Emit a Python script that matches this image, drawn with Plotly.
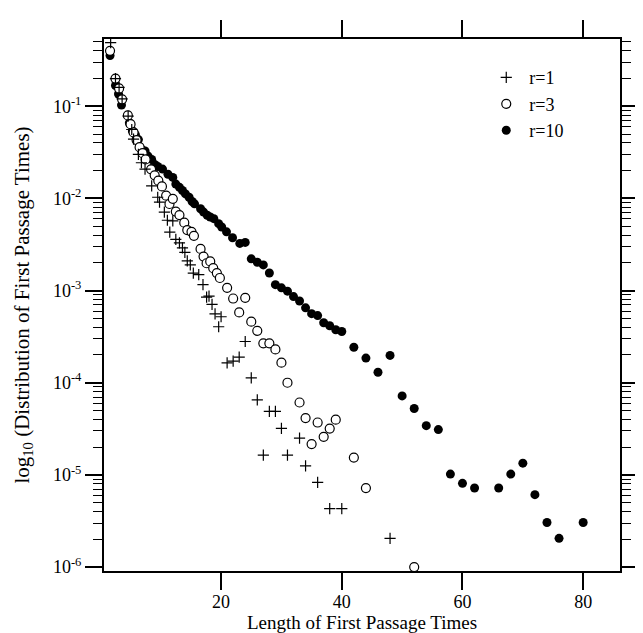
import plotly.graph_objects as go

# r=1 (plus markers)
x_r1 = [1.7, 2.5, 3.1, 3.6, 4.6, 5.2, 5.5, 6.3, 6.8, 7.4, 8.5, 9.5, 9.8, 10.6, 11.1, 11.5, 12.0, 12.5,
        13.1, 13.6, 14.0, 14.4, 14.9, 15.4, 16.3, 17.0, 17.6, 18.0, 18.5, 19.0, 19.6, 20.0, 21.0, 22.0,
        23.0, 24.0, 25.0, 26.0, 27.0, 28.0, 29.0, 30.0, 31.0, 33.0, 34.0, 36.0, 38.0, 40.0, 48.0]
y_r1 = [0.49, 0.20, 0.16, 0.12, 0.078, 0.056, 0.044, 0.030, 0.0244, 0.0208, 0.0137, 0.0103, 0.0091,
        0.0071, 0.0058, 0.0043, 0.0057, 0.0036, 0.0033, 0.0029, 0.0026, 0.0021, 0.0019, 0.00155,
        0.00149, 0.00116, 0.00085, 0.00087, 0.00071, 0.00056, 0.000405, 0.00052, 0.000164, 0.000172,
        0.00019, 0.00028, 0.000113, 6.5e-5, 1.64e-5, 4.9e-5, 4.9e-5, 3.2e-5, 1.64e-5, 2.5e-5, 1.25e-5,
        8.3e-6, 4.3e-6, 4.3e-6, 2.05e-6]

# r=3 (open circles)
x_r3 = [1.6, 2.5, 3.1, 3.6, 4.55, 5.0, 5.5, 6.0, 6.5, 7.0, 7.5, 8.4, 9.0, 9.6, 10.2, 10.9, 11.45, 12.0,
        12.5, 13.1, 13.9, 14.4, 15.1, 15.5, 16.6, 17.1, 17.6, 18.2, 18.7, 19.3, 19.8, 21.0, 22.0, 23.0,
        24.0, 25.0, 26.0, 27.0, 28.0, 29.0, 30.0, 31.0, 33.0, 34.0, 35.0, 36.0, 37.0, 38.0, 39.0, 42.0,
        44.0, 52.0]
y_r3 = [0.40, 0.20, 0.156, 0.119, 0.0795, 0.064, 0.052, 0.043, 0.036, 0.031, 0.0265, 0.0207, 0.0178,
        0.0156, 0.0135, 0.0107, 0.0087, 0.0099, 0.0072, 0.0066, 0.00546, 0.00453, 0.00434, 0.00393,
        0.00283, 0.00234, 0.00198, 0.00207, 0.00175, 0.00155, 0.00137, 0.00107, 0.00082, 0.00058,
        0.000835, 0.00046, 0.000366, 0.000268, 0.000268, 0.00023, 0.000165, 0.0001, 6.1e-5, 4.14e-5,
        2.16e-5, 3.7e-5, 2.59e-5, 3.18e-5, 3.97e-5, 1.54e-5, 7.2e-6, 1.0e-6]

# r=10 (filled circles)
x_r10 = [1.6, 2.5, 3.0, 3.5, 4.8, 5.3, 5.8, 6.3, 6.8, 7.4, 7.9, 8.5, 9.0, 9.5, 10.3, 11.2, 12.0, 12.5,
         13.1, 13.6, 14.1, 14.7, 15.2, 15.6, 16.6, 17.1, 17.7, 18.2, 18.8, 19.6, 20.1, 20.9, 21.9, 23.1,
         24.0, 25.0, 26.0, 27.0, 28.0, 29.0, 30.0, 31.0, 32.0, 33.0, 34.0, 35.0, 36.0, 37.0, 38.0, 39.0,
         40.0, 42.0, 44.0, 46.0, 48.0, 50.0, 52.0, 54.0, 56.0, 58.0, 60.0, 62.0, 66.0, 68.0, 70.0, 72.0,
         74.0, 76.0, 80.0]
y_r10 = [0.355, 0.168, 0.136, 0.103, 0.0658, 0.054, 0.0492, 0.0435, 0.034, 0.0327, 0.0288, 0.0265,
         0.0234, 0.0222, 0.0208, 0.0183, 0.0169, 0.0143, 0.0132, 0.0122, 0.0112, 0.0103, 0.00927,
         0.00873, 0.00772, 0.00711, 0.00656, 0.00629, 0.00603, 0.00532, 0.0049, 0.00434, 0.00374,
         0.00325, 0.00333, 0.00221, 0.00203, 0.0019, 0.00155, 0.00116, 0.00107, 0.000986, 0.00086,
         0.00077, 0.00065, 0.000562, 0.000535, 0.000447, 0.000415, 0.000376, 0.00036, 0.000243,
         0.000185, 0.00013, 0.000198, 7.2e-5, 5.25e-5, 3.42e-5, 3.1e-5, 1.02e-5, 8.1e-6, 7.2e-6,
         7.2e-6, 1.02e-5, 1.34e-5, 6.1e-6, 3.04e-6, 2.05e-6, 3.04e-6]

y_tickvals = [1e-6, 1e-5, 1e-4, 1e-3, 1e-2, 1e-1]
y_ticktext = ["10<sup>-6</sup>", "10<sup>-5</sup>", "10<sup>-4</sup>",
              "10<sup>-3</sup>", "10<sup>-2</sup>", "10<sup>-1</sup>"]
x_tickvals = [20, 40, 60, 80]

# minor ticks at 2..9 of every decade
y_minor = [m * d for d in [1e-6, 1e-5, 1e-4, 1e-3, 1e-2, 1e-1] for m in range(2, 10)]

serif = "Liberation Serif"

fig = go.Figure()
fig.add_trace(go.Scatter(x=x_r10, y=y_r10, mode="markers", name="r=10",
                         marker=dict(symbol="circle", size=9, color="black",
                                     line=dict(color="black", width=0))))
fig.add_trace(go.Scatter(x=x_r3, y=y_r3, mode="markers", name="r=3",
                         marker=dict(symbol="circle", size=9, color="white",
                                     line=dict(color="black", width=1.2))))
fig.add_trace(go.Scatter(x=x_r1, y=y_r1, mode="markers", name="r=1",
                         marker=dict(symbol="cross-thin", size=8, color="black",
                                     line=dict(color="black", width=1.2))))

fig.update_layout(
    width=643, height=633,
    margin=dict(l=95, r=22, t=25, b=70),
    paper_bgcolor="white", plot_bgcolor="white",
    font=dict(family=serif, color="black", size=17),
    showlegend=True,
    legend=dict(x=0.735, y=0.962, xanchor="left", yanchor="top",
                traceorder="reversed", bgcolor="rgba(0,0,0,0)",
                font=dict(family=serif, size=18), itemwidth=36,
                tracegroupgap=0),
)

fig.update_xaxes(
    range=[0.6, 86.1], tickvals=x_tickvals, ticks="outside", ticklen=17, tickwidth=1.5,
    tickcolor="black", showline=True, linewidth=2, linecolor="black", mirror="ticks",
    showgrid=False, zeroline=False, ticklabelstandoff=-4,
    tickfont=dict(family=serif, size=18),
    title=dict(text="Length of First Passage Times", font=dict(family=serif, size=19), standoff=0),
)
fig.update_yaxes(
    type="log", range=[-6.043, -0.27], tickvals=y_tickvals, ticktext=y_ticktext,
    ticks="outside", ticklen=17, tickwidth=1.5, tickcolor="black",
    minor=dict(ticks="outside", ticklen=9, tickwidth=1.2, tickcolor="black",
               tickvals=y_minor, showgrid=False),
    showline=True, linewidth=2, linecolor="black", mirror="ticks",
    showgrid=False, zeroline=False,
    tickfont=dict(family=serif, size=18),
    title=dict(text="log<sub>10</sub> (Distribution of First Passage Times)",
               font=dict(family=serif, size=21), standoff=18),
)

fig.write_html("out.html")
